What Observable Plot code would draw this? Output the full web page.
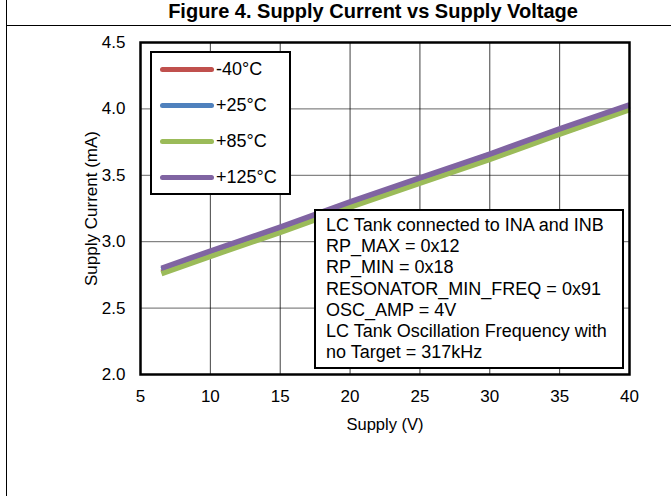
<!DOCTYPE html>
<html>
<head>
<meta charset="utf-8">
<script src="https://cdn.jsdelivr.net/npm/d3@7"></script>
<script src="https://cdn.jsdelivr.net/npm/@observablehq/plot@0.6"></script>
<style>
  html, body { margin: 0; padding: 0; background: #fff; }
  #fig { position: relative; width: 671px; height: 496px; overflow: hidden; font-family: "Liberation Sans", Arial, sans-serif; color: #000; }
  #lborder { position: absolute; left: 6px; top: 0; width: 1px; height: 496px; background: #000; }
  #title { position: absolute; left: 7px; top: 0; width: 664px; height: 25px; border-bottom: 1px solid #000; }
  #title span { position: absolute; left: 366px; top: 0px; transform: translateX(-50%); white-space: nowrap; font-weight: bold; font-size: 20px; line-height: 22px; }
  #chart { position: absolute; left: 0; top: 26px; }
  .box { position: absolute; background: #fff; border: 2px solid #000; box-sizing: border-box; }
  #legend { left: 150px; top: 51px; width: 141px; height: 144px; }
  .item { position: absolute; left: 8px; height: 20px; font-size: 18px; line-height: 20px; white-space: nowrap; }
  .swatch { display: inline-block; width: 54px; height: 5px; border-radius: 3px; vertical-align: middle; margin-right: 2px; position: relative; top: -1px; }
  #note { left: 314px; top: 209px; width: 310px; height: 160px; padding: 4px 0 0 10px; font-size: 18px; line-height: 21.2px; white-space: nowrap; }
</style>
</head>
<body>
<div id="fig">
  <div id="lborder"></div>
  <div id="title"><span>Figure 4. Supply Current vs Supply Voltage</span></div>
  <div id="chart"></div>
  <div id="legend" class="box"></div>
  <div id="note" class="box"></div>
</div>
<script>
// Supply voltage (V)
const supply = [6.5, 10, 15, 20, 25, 30, 35, 40];
// Supply current (mA) per temperature
const tempM40 = [2.77, 2.90, 3.08, 3.265, 3.45, 3.63, 3.815, 4.00];
const temp25  = [2.79, 2.92, 3.10, 3.29, 3.47, 3.655, 3.84, 4.02];
const temp85  = [2.76, 2.89, 3.07, 3.26, 3.44, 3.62, 3.81, 3.995];
const temp125 = [2.80, 2.93, 3.11, 3.30, 3.48, 3.66, 3.85, 4.03];

const seriesNames = ["-40°C", "+25°C", "+85°C", "+125°C"];
const seriesColors = ["#C0504D", "#4F81BD", "#9BBB59", "#8064A2"];
const seriesValues = [tempM40, temp25, temp85, temp125];

const xTicks = [5, 10, 15, 20, 25, 30, 35, 40];
const yTicks = [2.0, 2.5, 3.0, 3.5, 4.0, 4.5];

const noteLines = [
  "LC Tank connected to INA and INB",
  "RP_MAX = 0x12",
  "RP_MIN = 0x18",
  "RESONATOR_MIN_FREQ = 0x91",
  "OSC_AMP = 4V",
  "LC Tank Oscillation Frequency with",
  "no Target = 317kHz"
];

const seriesData = seriesValues.map(vals => supply.map((v, i) => ({x: v, y: vals[i]})));

const chart = Plot.plot({
  width: 671,
  height: 470,
  marginTop: 16,
  marginBottom: 122,
  marginLeft: 140,
  marginRight: 42,
  style: {fontFamily: "'Liberation Sans', Arial, sans-serif", fontSize: "17px", color: "#000", background: "transparent"},
  x: {domain: [5, 40]},
  y: {domain: [2, 4.5]},
  marks: [
    Plot.gridX(xTicks, {stroke: "#000", strokeOpacity: 0.75, strokeWidth: 1}),
    Plot.gridY(yTicks, {stroke: "#000", strokeOpacity: 0.6, strokeWidth: 1}),
    ...seriesData.map((d, i) => Plot.line(d, {x: "x", y: "y", stroke: seriesColors[i], strokeWidth: 5.5, strokeLinecap: "butt"})),
    Plot.frame({stroke: "#000", strokeWidth: 2.5}),
    Plot.axisX(xTicks, {tickSize: 0, tickPadding: 15, fontSize: 17, label: null}),
    Plot.axisY(yTicks, {tickSize: 0, tickPadding: 15, fontSize: 17, label: null, tickFormat: d3.format(".1f")}),
    Plot.text(["Supply (V)"], {frameAnchor: "bottom", dy: 50, fontSize: 16.5, textAnchor: "middle", lineAnchor: "middle"}),
    Plot.text(["Supply Current (mA)"], {frameAnchor: "left", dx: -49, rotate: -90, fontSize: 17, textAnchor: "middle", lineAnchor: "middle"})
  ]
});
document.getElementById("chart").appendChild(chart);

const legend = document.getElementById("legend");
seriesNames.forEach((name, i) => {
  const it = document.createElement("div");
  it.className = "item";
  it.style.top = (6 + i * 36) + "px";
  const sw = document.createElement("span");
  sw.className = "swatch";
  sw.style.background = seriesColors[i];
  it.appendChild(sw);
  it.appendChild(document.createTextNode(name));
  legend.appendChild(it);
});

document.getElementById("note").innerHTML = noteLines.map(s => `<div>${s}</div>`).join("");
</script>
</body>
</html>
